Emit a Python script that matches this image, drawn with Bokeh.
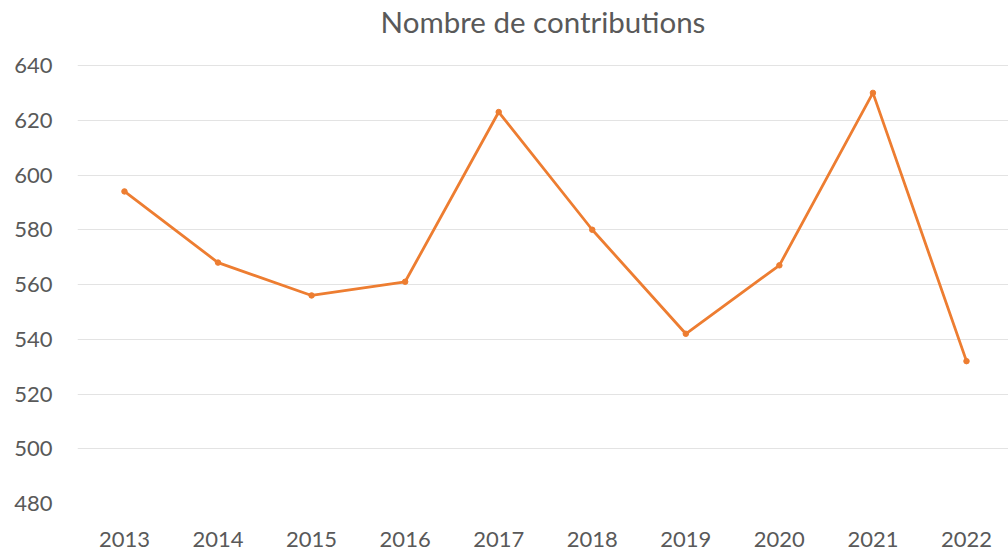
from bokeh.plotting import figure
from bokeh.models import Range1d, FixedTicker, Label
from bokeh.embed import file_html
from bokeh.resources import INLINE

title_text = "Nombre de contributions"
years = [2013, 2014, 2015, 2016, 2017, 2018, 2019, 2020, 2021, 2022]
contributions = [594, 568, 556, 561, 623, 580, 542, 567, 630, 532]
y_ticks = [480, 500, 520, 540, 560, 580, 600, 620, 640]

# layout: gridline 480 sits 503 px from top, 640 at 65 px; frame extends to the top edge
ppu = (503 - 65) / (y_ticks[-1] - y_ticks[0])
y_top = y_ticks[-1] + 65 / ppu
x0, x1 = 2012.498, 2022.449

p = figure(width=1008, height=550, output_backend="svg", toolbar_location=None,
           x_range=Range1d(x0, x1), y_range=Range1d(y_ticks[0], y_top),
           min_border_left=77, min_border_right=0, min_border_top=0, min_border_bottom=47)

p.add_layout(Label(x=(x0 + x1) / 2, y=y_top - 21 / ppu, text=title_text,
                   text_align="center", text_baseline="middle", text_font="Lato",
                   text_font_size="29.5px", text_color="#595959"))

p.line(years, contributions, line_color="#ED7D31", line_width=2.8)
p.scatter(years, contributions, size=5.5, fill_color="#ED7D31", line_color="#ED7D31")

p.xaxis.ticker = FixedTicker(ticks=years)
p.yaxis.ticker = FixedTicker(ticks=y_ticks)
for ax in (p.xaxis[0], p.yaxis[0]):
    ax.axis_line_color = None
    ax.major_tick_line_color = None
    ax.minor_tick_line_color = None
    ax.major_label_text_font = "Lato"
    ax.major_label_text_font_size = "22px"
    ax.major_label_text_color = "#595959"
p.yaxis.major_label_standoff = 19
p.xaxis.major_label_standoff = 22

p.xgrid.grid_line_color = None
p.ygrid.grid_line_color = "#e3e3e3"
p.ygrid.grid_line_width = 1
p.outline_line_color = None
p.background_fill_color = "white"
p.border_fill_color = "white"

open("out.html", "w").write(file_html(p, INLINE))
